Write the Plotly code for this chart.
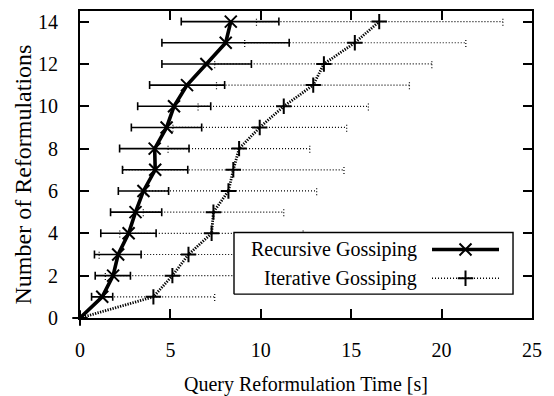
import numpy as np
import plotly.graph_objects as go

# Number of reformulations (y axis)
reformulations = list(range(15))

# Recursive gossiping: mean time with min / max range [s]
rec_time = [0.0, 1.23, 1.83, 2.11, 2.69, 3.07, 3.51, 4.16, 4.13, 4.79, 5.20, 5.92, 6.99, 8.06, 8.34]
rec_low = [None, 0.64, 0.84, 0.80, 1.15, 1.69, 2.12, 2.35, 2.19, 2.84, 3.19, 3.85, 4.53, 4.53, 5.60]
rec_high = [None, 1.81, 2.79, 3.38, 4.21, 4.52, 4.90, 5.96, 6.03, 6.73, 7.23, 8.00, 9.48, 11.57, 11.00]

# Iterative gossiping: mean time with min / max range [s]
it_time = [0.0, 4.06, 5.11, 6.00, 7.28, 7.38, 8.21, 8.48, 8.80, 9.94, 11.27, 12.90, 13.49, 15.20, 16.55]
it_low = [None, 1.06, 1.40, 1.06, 2.20, 3.50, 3.65, 2.36, 4.87, 5.14, 6.53, 7.55, 7.45, 9.11, 9.76]
it_high = [None, 7.45, 10.20, 9.80, 12.34, 11.27, 13.09, 14.60, 12.71, 14.75, 15.95, 18.22, 19.46, 21.34, 23.39]

x_ticks = [0, 5, 10, 15, 20, 25]
y_ticks = [0, 2, 4, 6, 8, 10, 12, 14]

FONT = "Liberation Serif, Times New Roman, serif"
DOTS = "1px,2px"
CAP = 0.2  # half height of the dotted range caps, in y units


def nan(v):
    return np.nan if v is None else v


rec_plus = [nan(h) - t if h is not None else np.nan for h, t in zip(rec_high, rec_time)]
rec_minus = [t - nan(l) if l is not None else np.nan for l, t in zip(rec_low, rec_time)]

# dotted range bars for the iterative series, built as line segments
seg_x, seg_y = [], []
for y, lo, hi in zip(reformulations, it_low, it_high):
    if lo is None:
        continue
    seg_x += [lo, hi, None, lo, lo, None, hi, hi, None]
    seg_y += [y, y, None, y - CAP, y + CAP, None, y - CAP, y + CAP, None]

fig = go.Figure()

fig.add_trace(go.Scatter(
    x=seg_x, y=seg_y, mode="lines",
    line=dict(color="black", width=1.2, dash=DOTS),
    hoverinfo="skip", showlegend=False,
))

fig.add_trace(go.Scatter(
    x=it_time, y=reformulations, mode="lines+markers",
    line=dict(color="black", width=2.8, dash="1.3px,1.3px"),
    marker=dict(symbol="cross-thin", size=11, line=dict(color="black", width=2)),
    cliponaxis=False, showlegend=False,
))

fig.add_trace(go.Scatter(
    x=rec_time, y=reformulations, mode="lines+markers",
    line=dict(color="black", width=3.6),
    marker=dict(symbol="x-thin", size=12, line=dict(color="black", width=2)),
    error_x=dict(type="data", symmetric=False, array=rec_plus, arrayminus=rec_minus,
                 color="black", thickness=1.6, width=4),
    showlegend=False,
))

# key box, drawn on an overlaid unit axis so it sits above the data
bx0, bx1, by0, by1 = 0.3407, 0.958, 0.0777, 0.2783
fig.add_trace(go.Scatter(
    x=[bx0, bx1, bx1, bx0, bx0], y=[by0, by0, by1, by1, by0],
    xaxis="x2", yaxis="y2", mode="lines", fill="toself",
    fillcolor="white", line=dict(color="black", width=1.4),
    hoverinfo="skip", showlegend=False,
))
sx0, sx1 = 0.7788, 0.927
ry, iy = 0.2233, 0.1294
fig.add_trace(go.Scatter(
    x=[sx0, (sx0 + sx1) / 2, sx1], y=[ry, ry, ry], xaxis="x2", yaxis="y2",
    mode="lines", line=dict(color="black", width=3.6),
    hoverinfo="skip", showlegend=False,
))
fig.add_trace(go.Scatter(
    x=[(sx0 + sx1) / 2], y=[ry], xaxis="x2", yaxis="y2", mode="markers",
    marker=dict(symbol="x-thin", size=12, line=dict(color="black", width=2)),
    hoverinfo="skip", showlegend=False,
))
fig.add_trace(go.Scatter(
    x=[sx0, sx1], y=[iy, iy], xaxis="x2", yaxis="y2",
    mode="lines", line=dict(color="black", width=1.4, dash=DOTS),
    hoverinfo="skip", showlegend=False,
))
fig.add_trace(go.Scatter(
    x=[(sx0 + sx1) / 2], y=[iy], xaxis="x2", yaxis="y2", mode="markers",
    marker=dict(symbol="cross-thin", size=11, line=dict(color="black", width=2)),
    hoverinfo="skip", showlegend=False,
))

axis_common = dict(
    showgrid=False, zeroline=False, showline=True, linecolor="black", linewidth=2,
    mirror="allticks", ticks="inside", ticklen=9, tickwidth=1.6, tickcolor="black",
    tickfont=dict(family=FONT, size=20, color="black"),
)

fig.update_layout(
    width=554, height=396,
    margin=dict(l=80, r=22, t=9, b=78),
    paper_bgcolor="white", plot_bgcolor="white",
    xaxis=dict(range=[0, 25], tickvals=x_ticks, ticklabelstandoff=13, **axis_common),
    yaxis=dict(range=[0, 14.5], tickvals=y_ticks, ticklabelstandoff=16, **axis_common),
    xaxis2=dict(overlaying="x", range=[0, 1], visible=False, fixedrange=True),
    yaxis2=dict(overlaying="y", range=[0, 1], visible=False, fixedrange=True),
    annotations=[
        dict(text="Query Reformulation Time [s]", x=0.5, y=-0.215, xref="paper", yref="paper",
             xanchor="center", yanchor="middle", showarrow=False,
             font=dict(family=FONT, size=20, color="black")),
        dict(text="Number of Reformulations", x=-0.126, y=0.4676, xref="paper", yref="paper",
             xanchor="center", yanchor="middle", textangle=-90, showarrow=False,
             font=dict(family=FONT, size=24, color="black")),
        dict(text="Recursive Gossiping", x=0.75, y=ry, xref="paper", yref="paper",
             xanchor="right", yanchor="middle", showarrow=False,
             font=dict(family=FONT, size=20, color="black")),
        dict(text="Iterative Gossiping", x=0.75, y=iy, xref="paper", yref="paper",
             xanchor="right", yanchor="middle", showarrow=False,
             font=dict(family=FONT, size=20, color="black")),
    ],
)

fig.write_html("out.html")
